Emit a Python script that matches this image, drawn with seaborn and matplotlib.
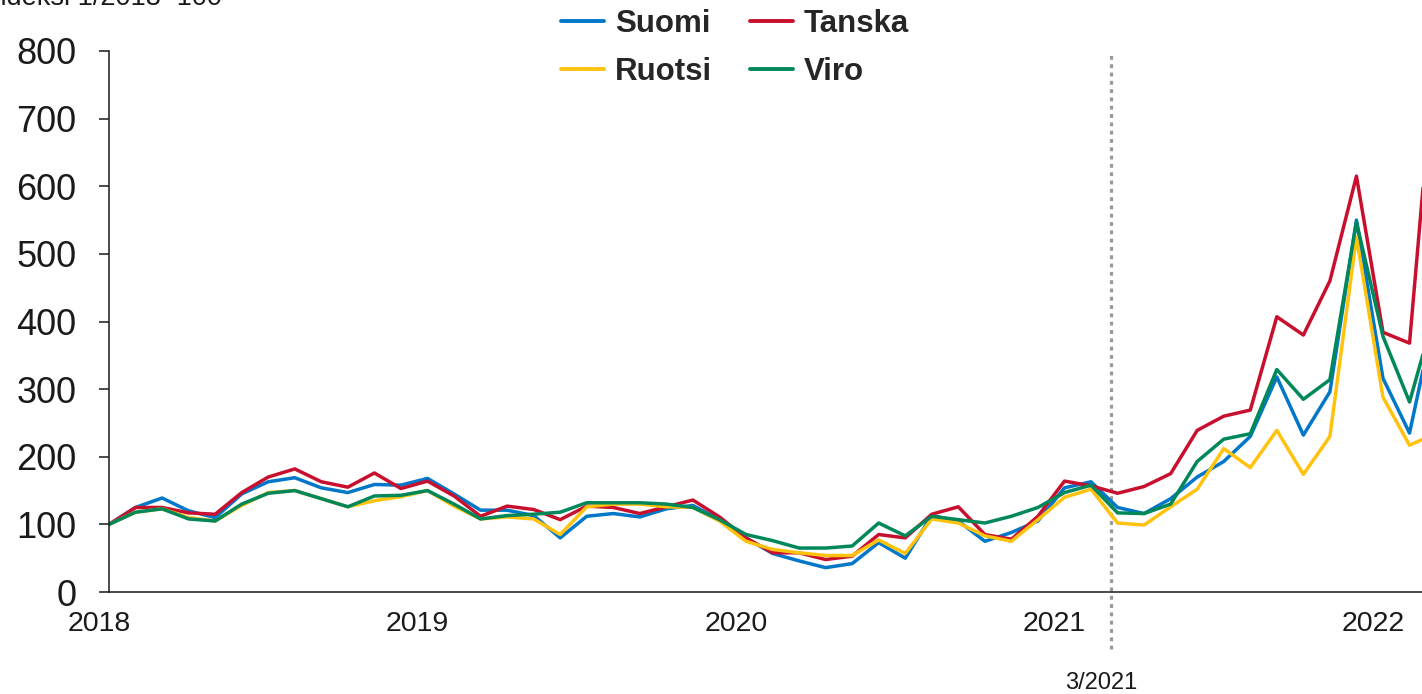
import matplotlib
matplotlib.use("Agg")
import matplotlib.pyplot as plt
from matplotlib.transforms import ScaledTranslation
import seaborn as sns
import pandas as pd

# monthly index, 1/2018 = 100 (Jan 2018 .. Mar 2022)
suomi = [100, 125, 139, 120, 110, 145, 163, 169, 154, 147, 159, 158,
         168, 145, 121, 121, 113, 80, 112, 116, 111, 123, 128, 107,
         80, 57, 46, 36, 42, 73, 50, 113, 105, 75, 88, 105,
         154, 163, 125, 116, 138, 170, 193, 230, 318, 232, 296, 550,
         316, 235, 418]
tanska = [100, 125, 125, 117, 115, 147, 170, 182, 163, 155, 176, 153,
          164, 142, 112, 127, 122, 107, 127, 125, 116, 126, 136, 111,
          80, 58, 58, 48, 53, 85, 80, 115, 126, 85, 78, 112,
          164, 157, 146, 156, 175, 239, 260, 269, 407, 380, 460, 615,
          384, 368, 820]
ruotsi = [100, 118, 123, 110, 105, 128, 147, 150, 138, 126, 135, 141,
          150, 127, 108, 111, 108, 85, 126, 130, 130, 126, 125, 105,
          75, 63, 58, 54, 54, 77, 57, 108, 102, 83, 75, 107,
          140, 152, 102, 99, 126, 152, 212, 184, 239, 174, 230, 525,
          288, 217, 235]
viro = [100, 118, 123, 108, 105, 130, 146, 150, 138, 126, 142, 143,
        150, 130, 108, 113, 115, 118, 132, 132, 132, 130, 125, 107,
        85, 76, 65, 65, 68, 102, 83, 112, 107, 102, 112, 125,
        147, 158, 117, 116, 130, 193, 226, 234, 329, 285, 314, 547,
        378, 281, 420]

countries = ["Suomi", "Tanska", "Ruotsi", "Viro"]
colors = {"Suomi": "#0077C8", "Tanska": "#C8102E",
          "Ruotsi": "#FFC20E", "Viro": "#00875A"}
year_ticks = [0, 12, 24, 36, 48]
year_labels = ["2018", "2019", "2020", "2021", "2022"]
marker_month = 37.75
marker_label = "3/2021"

series = {"Suomi": suomi, "Tanska": tanska, "Ruotsi": ruotsi, "Viro": viro}
df = pd.concat(
    [pd.DataFrame({"month": range(len(v)), "value": v, "maa": k})
     for k, v in series.items()],
    ignore_index=True,
)

sns.set_theme(style="white")
plt.rcParams["font.family"] = ["Liberation Sans", "DejaVu Sans"]

fig = plt.figure(figsize=(14.22, 6.94), dpi=100)
ax = fig.add_axes([109 / 1422, 102 / 694, 1313 / 1422, 541 / 694])

sns.lineplot(data=df, x="month", y="value", hue="maa", hue_order=countries,
             palette=colors, linewidth=2.5, ax=ax, legend=False)

ax.set_xlim(0, 49.47)
ax.set_ylim(0, 800)
ax.set_yticks(range(0, 801, 100))
ax.set_xticks(year_ticks)
ax.set_xticklabels(year_labels)
ax.set_xlabel("")
ax.set_ylabel("")
ax.tick_params(axis="y", labelsize=26, length=7.5, width=1.1, pad=16,
               color="#1a1a1a", labelcolor="#1a1a1a", left=True)
ax.tick_params(axis="x", labelsize=20.5, length=0, pad=14, labelcolor="#1a1a1a")
# year labels sit a little left of the January points
shift = ScaledTranslation(-10 / 100, 0, fig.dpi_scale_trans)
for lab in ax.get_xticklabels():
    lab.set_transform(lab.get_transform() + shift)
for side in ["top", "right"]:
    ax.spines[side].set_visible(False)
for side in ["left", "bottom"]:
    ax.spines[side].set_color("#1a1a1a")
    ax.spines[side].set_linewidth(1.1)

# dotted marker for 3/2021
ax.axvline(marker_month, ymin=-0.105, ymax=0.993, color="#999999", lw=2.3,
           linestyle=(0, (1.2, 1.4)), clip_on=False, zorder=1)
fig.text(1101 / 1422, 0.0, marker_label, ha="center", va="bottom",
         fontsize=17, color="#1a1a1a")

fig.text(222 / 1422, 1 - 5 / 694, "Indeksi 1/2018=100", ha="right",
         va="baseline", fontsize=19.5, color="#1a1a1a")

# legend, column-wise order
handles = [plt.Line2D([], [], color=colors[c], lw=2.8) for c in countries]
order = [0, 2, 1, 3]
fig.legend([handles[i] for i in order], [countries[i] for i in order],
           ncol=2, loc="upper center", bbox_to_anchor=(735 / 1422, 1.027),
           frameon=False, prop={"weight": "bold", "size": 22.5},
           handlelength=1.37, handletextpad=0.35, columnspacing=1.2,
           labelspacing=0.55)

fig.savefig("out.png", dpi=100)
